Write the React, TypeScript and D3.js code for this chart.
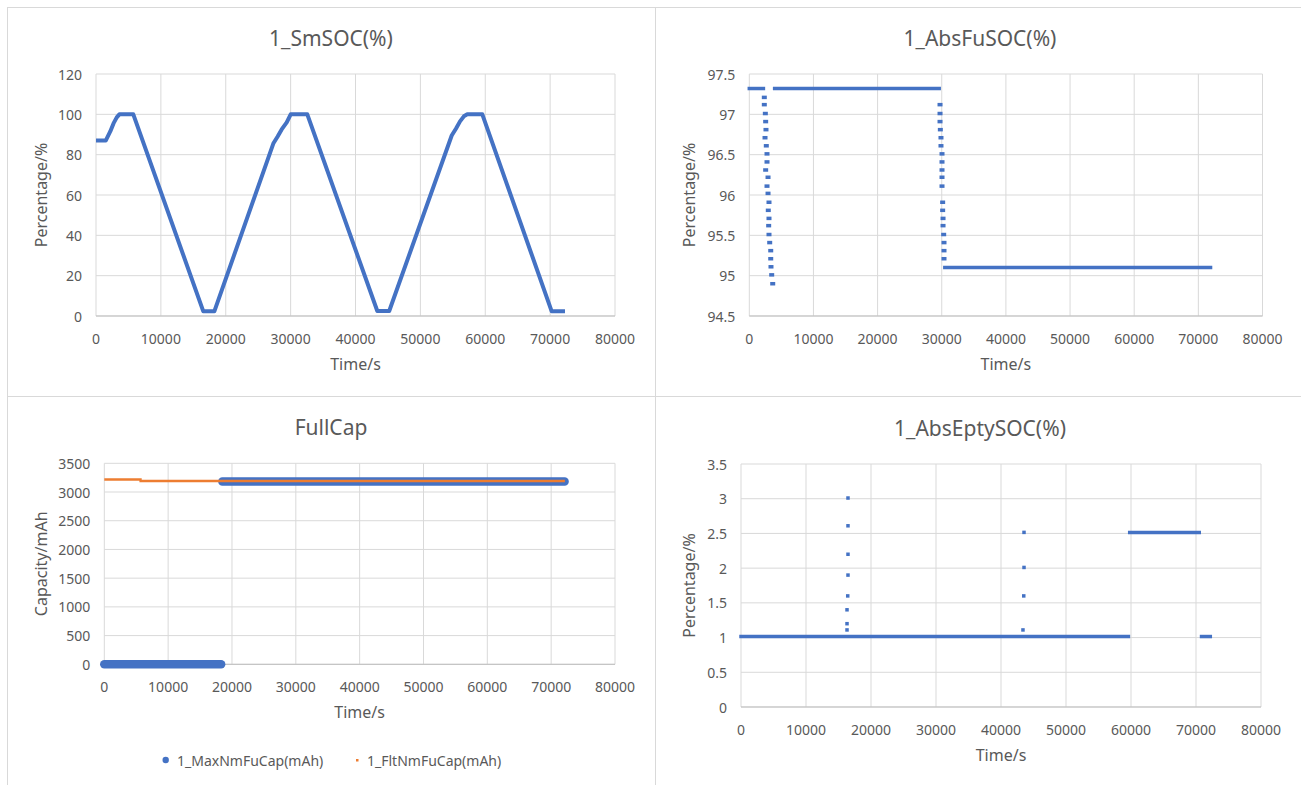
import React from "react";
import * as d3 from "d3";

// ---------------- data ----------------
const xTicks = [0, 10000, 20000, 30000, 40000, 50000, 60000, 70000, 80000];

// 1_SmSOC(%)
const smTicks = [0, 20, 40, 60, 80, 100, 120];
const smTime = [0, 1500, 2200, 2700, 3200, 3600, 5750, 16540, 18240, 27330, 28000, 28620, 29400, 30010, 32570, 43360, 45200, 54830, 55500, 56110, 56700, 57230, 59550, 70240, 72290];
const smVal = [87, 87, 91.5, 95.5, 98.5, 100, 100, 2.3, 2.3, 85.5, 89, 92.5, 96, 100, 100, 2.5, 2.5, 89.5, 93, 96.5, 99, 100, 100, 2.3, 2.3];

// 1_AbsFuSOC(%)
const fuTicks = [94.5, 95, 95.5, 96, 96.5, 97, 97.5];
const fuSegStart = [0, 3950, 30480];
const fuSegEnd = [2200, 29600, 71900];
const fuSegVal = [97.32, 97.32, 95.1];
const fuDropTime = [2340, 2340, 2500, 2550, 2600, 2450, 2650, 2760, 2760, 2550, 2920, 2760, 2920, 3070, 2960, 3070, 3020, 3070, 3180, 3340, 3340, 3380, 3490, 3650,
  29730, 29730, 29730, 29780, 29880, 29880, 30040, 30040, 30040, 30040, 30040, 30140, 30140, 30200, 30200, 30300, 30350, 30350, 30350];
const fuDropVal = [97.21, 97.12, 97.01, 96.91, 96.81, 96.71, 96.61, 96.51, 96.41, 96.31, 96.22, 96.11, 96.02, 95.91, 95.81, 95.71, 95.62, 95.51, 95.41, 95.31, 95.21, 95.11, 95.01, 94.9,
  97.12, 97.01, 96.91, 96.81, 96.71, 96.61, 96.51, 96.41, 96.31, 96.22, 96.11, 95.91, 95.81, 95.71, 95.62, 95.51, 95.41, 95.31, 95.21];

// FullCap
const capTicks = [0, 500, 1000, 1500, 2000, 2500, 3000, 3500];
const maxCapStart = [0, 18500];
const maxCapEnd = [18300, 72100];
const maxCapVal = [0, 3185];
const fltCapStart = [0, 5500];
const fltCapEnd = [5860, 72150];
const fltCapVal = [3220, 3193];
const capSeriesNames = ["1_MaxNmFuCap(mAh)", "1_FltNmFuCap(mAh)"];

// 1_AbsEptySOC(%)
const eptyTicks = [0, 0.5, 1, 1.5, 2, 2.5, 3, 3.5];
const eptySegStart = [0, 59800, 70850];
const eptySegEnd = [59600, 70500, 72200];
const eptySegVal = [1.015, 2.515, 1.015];
const eptyPtTime = [16460, 16460, 16460, 16460, 16420, 16310, 16310, 16310, 43540, 43540, 43500, 43380];
const eptyPtVal = [3.01, 2.61, 2.2, 1.9, 1.6, 1.4, 1.2, 1.11, 2.515, 2.01, 1.6, 1.11];

// ---------------- styles ----------------
const FONT = "'Noto Sans', sans-serif";
const TEXT = "#595959";
const GRID = "#D9D9D9";
const BLUE = "#4472C4";
const ORANGE = "#ED7D31";

type Frame = { left: number; right: number; top: number; bottom: number };

function Axes(props: {
  frame: Frame;
  x: d3.ScaleLinear<number, number>;
  y: d3.ScaleLinear<number, number>;
  yTicks: number[];
  title: string;
  titleX: number;
  titleY: number;
  yTitle: string;
  yTitleX: number;
}) {
  const { frame, x, y, yTicks, title, titleX, titleY, yTitle, yTitleX } = props;
  const cx = (frame.left + frame.right) / 2;
  const cy = (frame.top + frame.bottom) / 2;
  return (
    <g fontFamily={FONT} fill={TEXT}>
      {xTicks.map((t) => (
        <line key={"gx" + t} x1={x(t)} x2={x(t)} y1={frame.top} y2={frame.bottom} stroke={GRID} strokeWidth={1} />
      ))}
      {yTicks.map((t) => (
        <line key={"gy" + t} x1={frame.left} x2={frame.right} y1={y(t)} y2={y(t)} stroke={GRID} strokeWidth={1} />
      ))}
      <line x1={frame.left} x2={frame.right} y1={frame.bottom} y2={frame.bottom} stroke="#BFBFBF" strokeWidth={1} />
      {xTicks.map((t) => (
        <text key={"lx" + t} x={x(t)} y={frame.bottom + 22} fontSize={14} textAnchor="middle" dominantBaseline="central">
          {t}
        </text>
      ))}
      {yTicks.map((t) => (
        <text key={"ly" + t} x={frame.left - 14} y={y(t)} fontSize={14} textAnchor="end" dominantBaseline="central">
          {t}
        </text>
      ))}
      <text x={titleX} y={titleY} fontSize={21} textAnchor="middle" dominantBaseline="central">
        {title}
      </text>
      <text x={cx} y={frame.bottom + 48} fontSize={16} textAnchor="middle" dominantBaseline="central">
        Time/s
      </text>
      <text
        transform={`translate(${yTitleX},${cy}) rotate(-90)`}
        fontSize={16}
        textAnchor="middle"
        dominantBaseline="central"
      >
        {yTitle}
      </text>
    </g>
  );
}

export default function App() {
  // Panel 1
  const f1: Frame = { left: 96, right: 615, top: 74, bottom: 316 };
  const x1 = d3.scaleLinear().domain([0, 80000]).range([f1.left, f1.right]);
  const y1 = d3.scaleLinear().domain([0, 120]).range([f1.bottom, f1.top]);
  const smLine = d3
    .line<number>()
    .x((_, i) => x1(smTime[i]))
    .y((d) => y1(d))(smVal) as string;

  // Panel 2
  const f2: Frame = { left: 749.3, right: 1262.5, top: 74, bottom: 316 };
  const x2 = d3.scaleLinear().domain([0, 80000]).range([f2.left, f2.right]);
  const y2 = d3.scaleLinear().domain([94.5, 97.5]).range([f2.bottom, f2.top]);

  // Panel 3
  const f3: Frame = { left: 104.3, right: 615, top: 463.3, bottom: 664.3 };
  const x3 = d3.scaleLinear().domain([0, 80000]).range([f3.left, f3.right]);
  const y3 = d3.scaleLinear().domain([0, 3500]).range([f3.bottom, f3.top]);

  // Panel 4
  const f4: Frame = { left: 741, right: 1261, top: 464, bottom: 707 };
  const x4 = d3.scaleLinear().domain([0, 80000]).range([f4.left, f4.right]);
  const y4 = d3.scaleLinear().domain([0, 3.5]).range([f4.bottom, f4.top]);

  return (
    <div style={{ position: "absolute", left: 0, top: 0 }}>
      <svg width={1301} height={785} style={{ display: "block", background: "#fff" }}>
        <rect x={0} y={0} width={1301} height={785} fill="#fff" />
        {/* panel borders */}
        <g stroke="#D9D9D9" strokeWidth={1}>
          <line x1={7} x2={1301} y1={7.5} y2={7.5} />
          <line x1={7.5} x2={7.5} y1={7} y2={785} />
          <line x1={655.5} x2={655.5} y1={7} y2={785} />
          <line x1={7} x2={1301} y1={396.5} y2={396.5} />
        </g>

        {/* Panel 1 */}
        <Axes frame={f1} x={x1} y={y1} yTicks={smTicks} title="1_SmSOC(%)" titleX={331} titleY={38} yTitle="Percentage/%" yTitleX={41} />
        <path d={smLine} fill="none" stroke={BLUE} strokeWidth={4} strokeLinejoin="round" />

        {/* Panel 2 */}
        <Axes frame={f2} x={x2} y={y2} yTicks={fuTicks} title="1_AbsFuSOC(%)" titleX={980} titleY={38} yTitle="Percentage/%" yTitleX={689} />
        {fuSegVal.map((v, i) => (
          <line key={"fs" + i} x1={x2(fuSegStart[i])} x2={x2(fuSegEnd[i])} y1={y2(v)} y2={y2(v)} stroke={BLUE} strokeWidth={3.5} strokeLinecap="square" />
        ))}
        {fuDropVal.map((v, i) => (
          <rect key={"fd" + i} x={x2(fuDropTime[i]) - 2.5} y={y2(v) - 1.75} width={5} height={3.5} fill={BLUE} />
        ))}

        {/* Panel 3 */}
        <Axes frame={f3} x={x3} y={y3} yTicks={capTicks} title="FullCap" titleX={331} titleY={427} yTitle="Capacity/mAh" yTitleX={41} />
        {maxCapVal.map((v, i) => (
          <line key={"mc" + i} x1={x3(maxCapStart[i])} x2={x3(maxCapEnd[i])} y1={y3(v)} y2={y3(v)} stroke={BLUE} strokeWidth={8.5} strokeLinecap="round" />
        ))}
        {fltCapVal.map((v, i) => (
          <line key={"fc" + i} x1={x3(fltCapStart[i])} x2={x3(fltCapEnd[i])} y1={y3(v)} y2={y3(v)} stroke={ORANGE} strokeWidth={2.5} />
        ))}
        {/* legend */}
        <g fontFamily={FONT} fill={TEXT} fontSize={14}>
          <circle cx={165.7} cy={760} r={3.2} fill={BLUE} />
          <text x={177} y={760} dominantBaseline="central">{capSeriesNames[0]}</text>
          <rect x={356} y={759} width={2.5} height={2.5} fill={ORANGE} />
          <text x={367} y={760} dominantBaseline="central">{capSeriesNames[1]}</text>
        </g>

        {/* Panel 4 */}
        <Axes frame={f4} x={x4} y={y4} yTicks={eptyTicks} title="1_AbsEptySOC(%)" titleX={980} titleY={428} yTitle="Percentage/%" yTitleX={689} />
        {eptySegVal.map((v, i) => (
          <line key={"es" + i} x1={x4(eptySegStart[i])} x2={x4(eptySegEnd[i])} y1={y4(v)} y2={y4(v)} stroke={BLUE} strokeWidth={3.5} strokeLinecap="square" />
        ))}
        {eptyPtVal.map((v, i) => (
          <rect key={"ep" + i} x={x4(eptyPtTime[i]) - 1.75} y={y4(v) - 1.75} width={3.5} height={3.5} fill={BLUE} />
        ))}
      </svg>
    </div>
  );
}
